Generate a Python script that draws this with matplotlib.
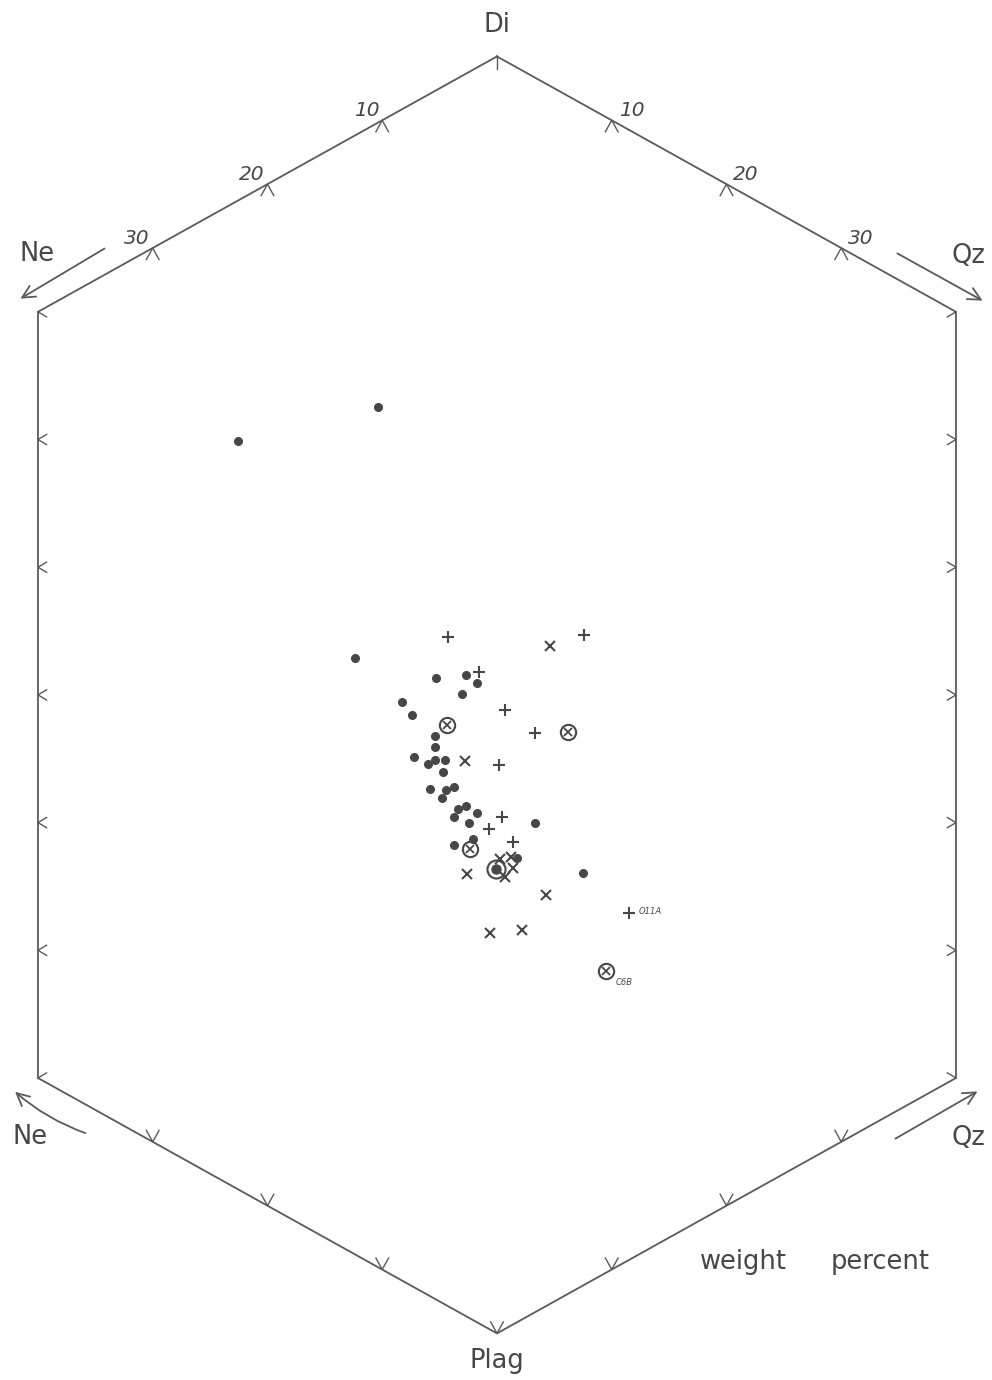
#!/usr/bin/env python3
"""
Di - Ne - Qz - Plag projection (weight percent), hexagonal double-triangle plot.
"""

import matplotlib.pyplot as plt
import numpy as np

plt.rcParams['font.family'] = 'DejaVu Sans'

INK = '#474747'
LINE = '#5a5a5a'

# data coordinates: x = Qz (+) / Ne (-) percent, y = vertical position (Plag -20 .. Di 80)
dots_x = [-10.37, -22.57, -12.37, -5.34, -2.68, -1.74, -3.08, -8.31, -7.38, -5.43,
          -5.43, -7.21, -6.04, -5.43, -4.53, -4.68, -5.86, -4.47, -3.72, -4.82,
          -3.37, -2.70, -1.72, -3.75, -2.44, 3.29, -3.75, -2.12, 1.77, 7.52]
dots_y = [52.54, 49.88, 32.89, 31.30, 31.58, 30.91, 30.07, 29.44, 28.40, 26.78,
          25.90, 25.16, 24.59, 24.90, 24.90, 23.94, 22.65, 22.53, 22.79, 21.93,
          21.09, 21.30, 20.73, 20.41, 19.95, 19.95, 18.22, 18.69, 17.25, 16.03]

plus_x = [-4.24, 7.58, -1.54, 0.70, 3.29, 0.20, 0.41, -0.67, 1.42, 11.48]
plus_y = [34.56, 34.69, 31.79, 28.79, 26.99, 24.51, 20.41, 19.50, 18.46, 12.90]

cross_x = [4.62, -2.76, 0.24, 1.25, 1.37, 0.72, -2.64, 4.27, -0.58, 2.15]
cross_y = [33.83, 24.80, 17.13, 17.28, 16.47, 15.76, 15.95, 14.31, 11.33, 11.59]

otimes_x = [-4.33, 6.21, -2.33, 9.53]
otimes_y = [27.67, 27.09, 17.96, 8.38]

bull_x = [-0.06]
bull_y = [16.34]

# labelled samples
labels = ['O11A', 'C6B']
label_x = [11.48, 9.53]
label_y = [12.90, 8.38]

# outline
hex_x = [0, 40, 40, 0, -40, -40, 0]
hex_y = [80, 60, 0, -20, 0, 60, 80]
edge_ticks = [10, 20, 30]
side_ticks = [10, 20, 30, 40, 50]

fig = plt.figure(figsize=(9.92, 13.8), dpi=100)
ax = fig.add_axes([0, 0, 1, 1])
ax.set_xlim(-43.31, 43.14)
ax.set_ylim(-23.65, 84.42)
ax.axis('off')

ax.plot(hex_x, hex_y, color=LINE, lw=1.3, solid_joinstyle='miter')

# tick sizes in data units
dx, dy = 0.55, 0.9
sx, sy = 0.75, 0.4

def chevron(px, py, ax1, ay1, ax2, ay2):
    ax.plot([px + ax1, px, px + ax2], [py + ay1, py, py + ay2], color=LINE, lw=1.0)

for t in edge_ticks:
    f = t / 40.0
    # upper edges: apex pointing up
    for side in (-1, 1):
        px, py = side * 40 * f, 80 - 20 * f
        chevron(px, py, -dx, -dy, dx, -dy)
    # lower edges: apex pointing down
    for side in (-1, 1):
        px, py = side * 40 * (1 - f), -20 * f
        chevron(px, py, -dx, dy, dx, dy)

for t in side_ticks:
    chevron(-40, t, sx, sy, sx, -sy)
    chevron(40, t, -sx, sy, -sx, -sy)

# corner half ticks and apex ticks
for side in (-1, 1):
    ax.plot([side * 40, side * (40 - sx)], [60, 60 - sy], color=LINE, lw=1.0)
    ax.plot([side * 40, side * (40 - sx)], [0, sy], color=LINE, lw=1.0)
ax.plot([0, 0], [80, 79.0], color=LINE, lw=1.0)
chevron(0, -20, -dx, dy, dx, dy)

# scale numbers on upper edges
for t in edge_ticks:
    f = t / 40.0
    ax.annotate(str(t), (-40 * f, 80 - 20 * f), xytext=(-2, 0), textcoords='offset points',
                ha='right', va='bottom', fontsize=14.5, style='italic', color=INK)
    ax.annotate(str(t), (40 * f, 80 - 20 * f), xytext=(5, 0), textcoords='offset points',
                ha='left', va='bottom', fontsize=14.5, style='italic', color=INK)

# direction arrows
arrow_kw = dict(arrowstyle='->,head_length=0.9,head_width=0.45', lw=1.3, color=LINE)
ax.annotate('', xy=(-41.74, 60.92), xytext=(-33.99, 65.07), arrowprops=arrow_kw)
ax.annotate('', xy=(42.53, 60.77), xytext=(34.68, 64.68), arrowprops=arrow_kw)
ax.annotate('', xy=(-42.18, -0.94), xytext=(-35.64, -4.39),
            arrowprops=dict(connectionstyle='arc3,rad=-0.1', **arrow_kw))
ax.annotate('', xy=(42.09, -0.94), xytext=(34.51, -4.86), arrowprops=arrow_kw)

# apex labels
lab_kw = dict(ha='center', va='center', fontsize=18.5, color=INK)
ax.text(0, 82.5, 'Di', **lab_kw)
ax.text(0, -22.2, 'Plag', **lab_kw)
ax.text(-40.1, 64.5, 'Ne', **lab_kw)
ax.text(41.05, 64.4, 'Qz', **lab_kw)
ax.text(-40.7, -4.6, 'Ne', **lab_kw)
ax.text(41.05, -4.7, 'Qz', **lab_kw)
ax.text(21.5, -14.4, 'weight', **lab_kw)
ax.text(33.4, -14.4, 'percent', **lab_kw)

# data points
ax.plot(dots_x, dots_y, 'o', ms=5.5, color=INK, mec=INK, ls='none')
ax.plot(plus_x, plus_y, '+', ms=8, mew=1.5, color=INK, ls='none')
ax.plot(cross_x, cross_y, 'x', ms=7, mew=1.5, color=INK, ls='none')
ax.plot(otimes_x, otimes_y, 'o', ms=11, mfc='none', mec=INK, mew=1.5, ls='none')
ax.plot(otimes_x, otimes_y, 'x', ms=6, mew=1.3, color=INK, ls='none')
ax.plot(bull_x, bull_y, 'o', ms=13, mfc='none', mec=INK, mew=1.5, ls='none')
ax.plot(bull_x, bull_y, 'o', ms=6.5, mfc=INK, mec=INK, ls='none')

for name, lx, ly in zip(labels, label_x, label_y):
    off = (7, 1) if name == 'O11A' else (7, -8)
    ax.annotate(name, (lx, ly), xytext=off, textcoords='offset points',
                ha='left', va='center', fontsize=6, style='italic', color=INK)

plt.savefig('out.png', dpi=100, facecolor='white')
plt.close()
